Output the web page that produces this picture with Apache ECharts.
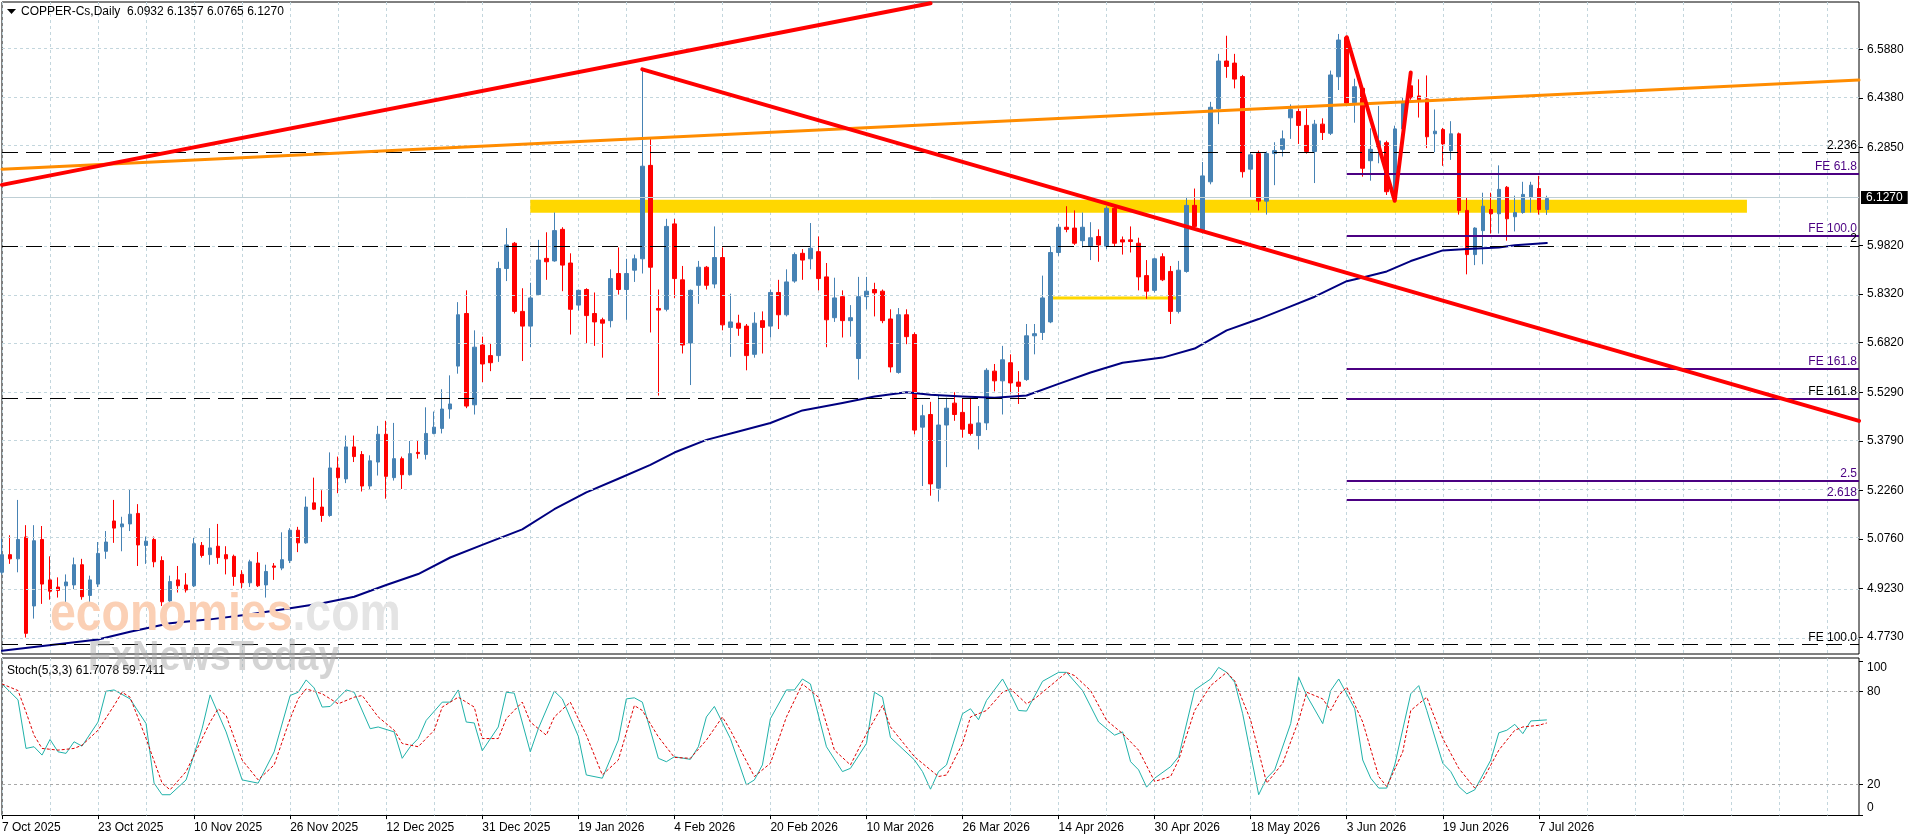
<!DOCTYPE html>
<html>
<head>
<meta charset="utf-8">
<title>COPPER-Cs Daily</title>
<script src="https://cdn.jsdelivr.net/npm/echarts@6/dist/echarts.min.js"></script>
<style>
html,body{margin:0;padding:0;background:#fff;}
#chart{width:1916px;height:840px;}
</style>
</head>
<body>
<div id="chart"></div>
<script>
// axis texts
var dateLabels = ['7 Oct 2025','23 Oct 2025','10 Nov 2025','26 Nov 2025','12 Dec 2025','31 Dec 2025',
    '19 Jan 2026','4 Feb 2026','20 Feb 2026','10 Mar 2026','26 Mar 2026','14 Apr 2026','30 Apr 2026',
    '18 May 2026','3 Jun 2026','19 Jun 2026','7 Jul 2026'];
var priceTicks = [6.588, 6.438, 6.285, 5.982, 5.832, 5.682, 5.529, 5.379, 5.226, 5.076, 4.923, 4.773];
var stochTicks = [0, 20, 80, 100];

// daily candles, 7 Oct 2025 .. 8 Jul 2026
var opens = [
4.9733,5.0278,5.0148,5.0824,4.8693,5.0746,4.9499,4.9278,4.9317,4.9343,
4.9967,4.9018,4.9369,5.0382,5.1317,5.1136,5.1226,5.1551,5.0564,5.0746,
5.0096,4.8849,4.9499,4.9343,4.9317,5.0564,5.0278,5.0538,5.0278,5.0226,
4.9668,4.9408,5.0018,4.9343,4.9928,4.9863,5.0096,5.1032,5.0642,5.1876,
5.1746,5.1486,5.2954,5.2616,5.3604,5.3370,5.2396,5.3136,5.3993,5.2655,
5.3240,5.2746,5.3435,5.3370,5.4019,5.4175,5.4773,5.6098,5.7722,5.4903,
5.6748,5.6422,5.6422,5.9111,5.9891,5.7787,5.7332,5.8306,5.9423,5.9345,
6.0319,5.9280,5.7981,5.8462,5.7722,5.7527,5.7501,5.8956,5.8462,5.9059,
5.9410,6.2294,5.7877,5.7851,6.0488,5.8761,5.6812,5.8592,5.9150,5.8631,
5.9449,5.7293,5.7423,5.7332,5.6461,5.7501,5.7332,5.8371,5.7683,5.8722,
5.9579,5.9410,5.9631,5.8852,5.7592,5.8241,5.7501,5.6332,5.8241,5.8462,
5.8410,5.7553,5.5903,5.7683,5.7072,5.4214,5.4604,5.2331,5.4279,5.4955,
5.4669,5.4305,5.3954,5.4344,5.5942,5.5643,5.6202,5.5604,5.5682,5.7033,
5.7137,5.7462,5.9605,6.0384,6.0358,5.9969,5.9800,6.0099,5.9800,6.0969,
5.9995,5.9995,5.9891,5.8891,5.8436,5.9475,5.9020,5.7787,5.9020,6.1060,
6.0280,6.1787,6.4048,6.5515,6.5451,6.5035,6.2177,6.2658,6.1190,6.2658,
6.2788,6.3762,6.3957,6.3528,6.2723,6.3567,6.3284,6.5031,6.6247,6.4229,
6.4673,6.2438,6.2870,6.2994,6.1500,6.3420,6.4750,6.4437,6.4346,6.3270,
6.3398,6.2749,6.3268,6.0904,5.9540,6.0280,6.0930,6.0800,6.1618,6.0709,
6.0839,6.1320,6.1579,6.0932];
var highs = [
5.0772,5.0876,5.1967,5.1188,5.1188,5.1162,5.0226,4.9577,4.9668,5.0187,
5.0148,4.9629,5.0668,5.1006,5.1967,5.1447,5.2305,5.1837,5.0837,5.0837,
5.0226,4.9629,4.9928,4.9707,5.0798,5.0668,5.1097,5.1226,5.0538,5.0278,
4.9798,5.0122,5.0356,4.9967,5.0018,5.0967,5.1097,5.1136,5.2071,5.2655,
5.2266,5.3435,5.3305,5.3954,5.3954,5.3474,5.3344,5.4253,5.4409,5.4344,
5.3305,5.3785,5.3785,5.4825,5.4695,5.5383,5.5812,5.8072,5.8436,5.7202,
5.7007,5.6812,5.9319,6.0358,5.9930,5.8501,5.8670,5.9995,6.0229,6.0839,
6.0384,5.9579,5.8462,5.8501,5.8371,5.7592,5.9085,5.9761,5.9410,5.9540,
6.5256,6.3112,5.8462,6.0644,6.0644,5.9189,5.8462,5.9345,5.9189,6.0410,
5.9761,5.8332,5.7683,5.7397,5.7761,5.7787,5.8462,5.8761,5.9085,5.9605,
5.9709,6.0514,6.0099,5.9280,5.8826,5.8436,5.7981,5.8852,5.8852,5.8670,
5.8462,5.7851,5.7890,5.7851,5.7137,5.4903,5.4994,5.5188,5.5123,5.5292,
5.5084,5.5123,5.4864,5.6033,5.6163,5.6722,5.6461,5.5942,5.7397,5.7397,
5.8891,5.9800,6.0488,6.1034,6.0904,6.0839,6.0540,6.0319,6.1034,6.1034,
6.0099,6.0410,6.0060,5.9371,5.9449,5.9579,5.9189,5.9345,6.1320,6.1579,
6.2398,6.4255,6.5736,6.6295,6.5736,6.5087,6.2697,6.2749,6.2723,6.3008,
6.3372,6.4177,6.4048,6.4048,6.3697,6.3747,6.5220,6.6350,6.6275,6.4970,
6.4697,6.3438,6.4127,6.3056,6.3520,6.4400,6.5160,6.4950,6.5070,6.4020,
6.3450,6.3658,6.3307,6.1294,6.0384,6.1450,6.1450,6.2294,6.1657,6.1359,
6.1787,6.1787,6.1969,6.1357];
var lows = [
4.9668,4.9993,4.9733,4.7720,4.8304,4.8758,4.8888,4.8953,4.8693,4.9213,
4.8888,4.8693,4.9278,5.0148,5.0642,5.0382,5.1006,4.9928,4.9993,4.9889,
4.8693,4.8693,4.9109,4.9109,4.9278,5.0187,4.9967,4.9993,4.9668,4.9317,
4.9239,4.9278,4.9278,4.8953,4.9499,4.9798,5.0018,5.0356,5.0616,5.1655,
5.1291,5.1447,5.2175,5.2486,5.3136,5.2227,5.2305,5.2720,5.2006,5.2564,
5.2305,5.2720,5.3240,5.3214,5.3993,5.4019,5.4474,5.5864,5.4799,5.4604,
5.5604,5.5942,5.6228,5.8722,5.7722,5.6254,5.6682,5.8280,5.8761,5.9319,
5.8410,5.7072,5.7812,5.6812,5.6722,5.6358,5.7293,5.8306,5.7527,5.8696,
5.8956,5.7137,5.5188,5.7787,5.8202,5.6487,5.5513,5.8020,5.8462,5.8501,
5.7202,5.6384,5.7033,5.5968,5.6358,5.6487,5.6981,5.7241,5.7631,5.8670,
5.8761,5.9085,5.8436,5.6682,5.7462,5.6981,5.7007,5.5682,5.7851,5.7631,
5.7423,5.5903,5.5864,5.6774,5.3993,5.2396,5.2097,5.1915,5.2980,5.4409,
5.3889,5.3954,5.3526,5.4123,5.5318,5.4604,5.5253,5.4929,5.5643,5.6461,
5.6903,5.7423,5.9501,6.0229,5.9839,5.9761,5.9371,5.9319,5.9709,5.9800,
5.9540,5.9605,5.8436,5.8176,5.8371,5.8722,5.7397,5.7722,5.8981,6.0384,
6.0190,6.1709,6.3567,6.4996,6.4671,6.1917,6.1320,6.0904,6.0774,6.1683,
6.2567,6.3112,6.2956,6.2658,6.1748,6.3077,6.3230,6.4620,6.4150,6.3611,
6.1945,6.1820,6.2359,6.1380,6.1180,6.3350,6.4320,6.3770,6.2827,6.2700,
6.2280,6.2463,6.0774,5.8930,5.9215,5.9241,6.0190,6.0190,5.9969,6.0255,
6.0800,6.0839,6.0774,6.0765];
var closes = [
5.0278,5.0148,5.0746,4.7849,5.0707,4.9369,4.9148,4.9174,4.9434,4.9967,
4.8979,4.9499,5.0317,5.0668,5.1097,5.1226,5.1525,5.0577,5.0694,5.0057,
4.8823,4.9447,4.9317,4.9187,5.0616,5.0252,5.0486,5.0187,5.0148,4.9603,
4.9408,5.0057,4.9317,4.9759,4.9889,5.0122,5.1032,5.0642,5.1746,5.1681,
5.1486,5.2954,5.2655,5.3604,5.3305,5.2396,5.3175,5.3993,5.2694,5.3240,
5.2746,5.3396,5.3396,5.4019,5.4214,5.4773,5.4929,5.7683,5.4864,5.6682,
5.6163,5.6202,5.9111,5.9839,5.7787,5.7332,5.8202,5.9371,5.9319,6.0280,
5.9215,5.7851,5.8436,5.7657,5.7462,5.7423,5.8800,5.8462,5.8956,5.9410,
6.2268,5.9150,5.7826,6.0410,5.8800,5.6748,5.8436,5.9150,5.8592,5.9449,
5.7371,5.7462,5.7267,5.6422,5.7423,5.7293,5.8371,5.7683,5.8696,5.9540,
5.9371,5.9735,5.8800,5.7527,5.8202,5.7501,5.7592,5.8241,5.8410,5.8358,
5.7501,5.6072,5.7683,5.7007,5.4123,5.4565,5.2461,5.4279,5.4799,5.4604,
5.4149,5.4019,5.4344,5.5968,5.5643,5.6293,5.5578,5.5474,5.7033,5.7098,
5.8202,5.9605,6.0384,6.0319,5.9891,6.0384,6.0060,5.9839,6.0969,5.9891,
5.9930,5.9943,5.8852,5.8410,5.9410,5.8761,5.7787,5.9059,6.1060,6.0410,
6.1969,6.4087,6.5515,6.5347,6.4957,6.2099,6.2619,6.1190,6.2658,6.2749,
6.3112,6.4022,6.3528,6.2723,6.3567,6.3307,6.5085,6.6164,6.4216,6.4722,
6.2204,6.2790,6.3050,6.1481,6.3420,6.4250,6.4380,6.4307,6.3177,6.3350,
6.2956,6.3268,6.0904,5.9540,6.0358,6.1034,6.0800,6.1554,6.0644,6.0839,
6.1398,6.1683,6.0930,6.1270];

// moving average: [bar, price]
var maLine = [[0,4.731],[12,4.766],[16,4.790],[21,4.816],[26,4.828],[31,4.844],[36,4.862],[40,4.878],
    [44,4.898],[48,4.934],[52,4.968],[56,5.019],[60,5.058],[65,5.106],[69,5.168],[73,5.220],[77,5.262],
    [81,5.305],[84,5.343],[88,5.382],[92,5.408],[96,5.434],[100,5.473],[105,5.496],[109,5.516],[113,5.529],
    [116,5.521],[120,5.516],[124,5.512],[128,5.519],[132,5.555],[136,5.590],[140,5.620],[145,5.636],
    [149,5.664],[153,5.720],[157,5.755],[161,5.794],[164,5.824],[168,5.872],[170,5.883],[173,5.902],
    [176,5.934],[180,5.967],[183,5.971],[187,5.976],[189,5.983],[193,5.990]];

// stochastic(5,3,3): [bar, value]
var stochK = [[0,85],[2,74.7],[3,43.2],[4,44.3],[5,38.9],[6,49],[7,41],[8,40],[9,47.5],[10,44.7],[12,60.3],
    [13,80.3],[14,81.1],[16,75.3],[18,59.3],[19,20.7],[20,13.2],[21,13.2],[23,22.8],[25,56],[26,77.9],[28,53.9],
    [30,22.8],[32,20.7],[34,41],[36,77.5],[37,79.6],[38,87.6],[39,82.4],[40,70],[41,70.4],[43,81.1],[44,79.6],
    [46,56],[47,57.1],[49,53.9],[50,36.8],[51,44.3],[52,49.6],[53,61.4],[55,73.2],[56,73.2],[57,81.1],[58,60.3],
    [59,59.7],[60,41.7],[62,57.1],[63,79.6],[64,79],[66,41],[67,56],[69,80.3],[70,75.3],[72,51.1],[73,26],
    [75,23.9],[77,48.6],[78,75.3],[79,76],[80,73.2],[82,36.8],[83,34.6],[84,37.8],[86,36.1],[87,44.3],[88,63.6],
    [89,70.4],[91,49.6],[93,19.6],[94,22.8],[95,32.5],[96,62.5],[98,81.1],[99,81.1],[100,88.2],[101,85],
    [103,44.3],[105,28.2],[106,30.3],[108,46.4],[109,79.6],[110,76.4],[111,50.3],[114,35.7],[115,28.2],
    [116,16.8],[117,28.2],[118,32.5],[120,65.7],[121,68.9],[122,61.8],[123,74.3],[125,88.2],[126,78.6],
    [127,67.8],[128,67.4],[130,86.7],[132,92.5],[133,92.5],[135,80.7],[137,60.3],[139,51.8],[140,53.9],
    [141,34.6],[142,29.3],[143,18.1],[144,23.9],[146,31.4],[147,37.8],[149,81.1],[151,88.2],[152,95.7],
    [153,92.5],[154,86.1],[155,65.7],[157,13.2],[158,23.9],[159,29.3],[161,59.3],[162,89.3],[163,77.5],
    [165,59.3],[166,80.7],[167,88.2],[169,68.9],[170,35.7],[171,23.9],[172,17.5],[173,17.5],[174,32.5],
    [176,78.6],[177,83.9],[178,67.8],[180,33.6],[181,28.2],[182,18.5],[183,13.8],[184,16.4],[186,35.7],
    [187,53.3],[188,55],[189,58.8],[190,52.8],[191,61],[193,61.7]];
var stochD = [[0,85],[2,80.7],[3,66.8],[4,51.8],[5,43.2],[7,42.1],[9,43.2],[10,45.3],[12,55],[14,71],[15,79.6],
    [16,76.4],[18,49.6],[20,20.7],[21,16.4],[23,28.2],[26,60.3],[27,68.9],[28,64.6],[30,35.7],[32,22.8],[34,32.5],
    [36,62.5],[37,75.3],[38,81.8],[40,78.6],[42,72.1],[44,76.4],[45,77.5],[47,63.6],[49,55],[50,46.4],[52,44.3],
    [54,55],[55,70],[57,76.4],[59,70],[60,49.6],[62,49.6],[63,62.5],[65,73.2],[66,60.3],[68,51.8],[69,63.6],
    [71,73.2],[73,51.8],[75,26],[77,35.7],[79,71],[80,67.8],[82,50.7],[84,37.4],[86,36.8],[88,48.6],[90,63.6],
    [91,55],[94,25],[96,33.6],[98,63.6],[100,85],[102,76.4],[104,42.1],[106,32.5],[108,52.8],[110,71],[111,57.1],
    [114,37.8],[117,25],[118,26],[120,46.4],[121,63.6],[123,67.8],[125,79.6],[126,81.8],[128,72.1],[129,75.3],
    [133,92.5],[134,90.4],[136,80.7],[138,61.4],[140,52.8],[142,42.1],[144,21.8],[146,25],[147,35.7],[149,67.8],
    [151,83.9],[153,92.5],[154,87.1],[156,61.4],[158,20.7],[160,33.6],[162,61.4],[163,79.6],[165,75.3],
    [166,67.8],[167,77.5],[168,82.9],[170,60.3],[172,25],[173,18.5],[175,41],[176,67.8],[178,76.4],[180,49.6],
    [182,30.3],[184,17.5],[185,22.8],[187,42.1],[189,55],[190,57.1],[192,58.2],[193,59.7]];
var stochText = 'Stoch(5,3,3) 61.7078 59.7411';

// drawn objects: [bar, price]
var upTrend = [[0,6.1693],[116,6.730]];
var downTrend = [[80,6.5257],[232,5.4408]];
var orangeLine = [[0,6.2176],[232,6.4929]];
var zigzag = [[168,6.625],[174,6.120],[176,6.516]];
var goldLine = [[131,5.820],[147,5.820]];
var goldZone = {from:66, to:218, top:6.1235, bottom:6.0835};
var fibDashed = [6.266, 5.978, 5.508, 4.749];
var fibDashedText = ['2.236', '2', 'FE 161.8', 'FE 100.0'];
var fibLevels = [6.2045, 6.0118, 5.6006, 5.5083, 5.2568, 5.1965];
var fibText = ['FE 61.8', 'FE 100.0', 'FE 161.8', '', '2.5', '2.618'];
var fibStart = 168;

var slots = 233; // bars plus empty space on the right

var cats = [];
for (var i = 0; i < slots; i++) cats.push(String(i));
var candles = opens.map(function (o, i) { return [o, closes[i], lows[i], highs[i]]; });
var last = opens.length - 1;
var lastPrice = closes[last];

var font = '"Liberation Sans", Arial, sans-serif';
var gridLine = {color: '#C3D6DD', type: [3, 3], width: 1};
function every6(i) { return i % 6 === 0; }
function every12(i) { return i % 12 === 0 && i / 12 < dateLabels.length; }

var myChart = echarts.init(document.getElementById('chart'), null, {renderer: 'canvas'});

var fibMarks = [];
fibDashed.forEach(function (p, k) {
    fibMarks.push({
        yAxis: p,
        lineStyle: {color: '#000', type: [16, 8], width: 1},
        label: {show: true, position: 'insideEndTop', formatter: fibDashedText[k], color: '#000',
            fontSize: 12, fontFamily: font, distance: [2, 1]}
    });
});
fibLevels.forEach(function (p, k) {
    fibMarks.push([
        {coord: [fibStart, p], lineStyle: {color: '#4B0082', type: 'solid', width: 2},
            label: {show: fibText[k] !== '', position: 'insideEndTop', formatter: fibText[k], color: '#4B0082',
                fontSize: 12, fontFamily: font, distance: [2, 1]}},
        {coord: [slots - 1, p]}
    ]);
});

function trend(name, data, color, width, z) {
    return {
        name: name, type: 'line', xAxisIndex: 0, yAxisIndex: 0, data: data,
        symbol: 'none', silent: true, z: z,
        lineStyle: {color: color, width: width, cap: 'round', join: 'round'}
    };
}

var option = {
    animation: false,
    backgroundColor: '#fff',
    textStyle: {fontFamily: font},
    grid: [
        {left: 2, top: 2, width: 1857, height: 652, show: true, borderColor: '#000', borderWidth: 1,
            backgroundColor: '#fff', outerBoundsMode: 'none'},
        {left: 2, top: 658, width: 1857, height: 157.5, show: true, borderColor: '#000', borderWidth: 1,
            backgroundColor: '#fff', outerBoundsMode: 'none'}
    ],
    xAxis: [
        {type: 'category', gridIndex: 0, data: cats, boundaryGap: false,
            axisLine: {show: false}, axisTick: {show: false}, axisLabel: {show: false},
            splitLine: {show: true, interval: every6, lineStyle: gridLine}},
        {type: 'category', gridIndex: 1, data: cats, boundaryGap: false,
            axisLine: {show: false},
            axisTick: {show: true, interval: every12, length: 4, lineStyle: {color: '#000'}},
            axisLabel: {interval: every12, align: 'left', margin: 6, color: '#000', fontSize: 12, fontFamily: font,
                formatter: function (v, i) { return dateLabels[i / 12] || ''; }},
            splitLine: {show: true, interval: every6, lineStyle: gridLine}}
    ],
    yAxis: [
        {type: 'value', gridIndex: 0, position: 'right', min: 4.7211, max: 6.7337, scale: true,
            axisLine: {show: false}, splitLine: {show: false},
            axisTick: {show: true, customValues: priceTicks, length: 4, lineStyle: {color: '#000'}},
            axisLabel: {customValues: priceTicks, margin: 8, color: '#000', fontSize: 12, fontFamily: font,
                formatter: function (v) { return v.toFixed(4); }}},
        {type: 'value', gridIndex: 1, position: 'right', min: -0.26, max: 101.8,
            axisLine: {show: false}, splitLine: {show: false},
            axisTick: {show: true, customValues: stochTicks, length: 4, lineStyle: {color: '#000'}},
            axisLabel: {customValues: stochTicks, margin: 8, color: '#000', fontSize: 12, fontFamily: font,
                lineHeight: 14, verticalAlignMinLabel: 'bottom',
                // top label sits just inside the panel, as in the terminal
                formatter: function (v) { return v === 100 ? '\n100' : String(v); }}}
    ],
    series: [
        {   // price grid lines
            name: 'grid', type: 'line', xAxisIndex: 0, yAxisIndex: 0, data: [], z: 1, silent: true,
            markLine: {silent: true, symbol: ['none', 'none'], label: {show: false}, lineStyle: gridLine,
                data: priceTicks.map(function (p) { return {yAxis: p}; })}
        },
        {   // gold zone
            name: 'zone', type: 'line', xAxisIndex: 0, yAxisIndex: 0, data: [], z: 2, silent: true,
            markArea: {silent: true, itemStyle: {color: '#FFD700', opacity: 1},
                data: [[{xAxis: goldZone.from, yAxis: goldZone.top}, {xAxis: goldZone.to, yAxis: goldZone.bottom}]]}
        },
        trend('gold line', goldLine, '#FFD700', 3, 2),
        {
            name: 'COPPER-Cs', type: 'candlestick', xAxisIndex: 0, yAxisIndex: 0, data: candles,
            barWidth: 4, z: 3, silent: true,
            itemStyle: {color: '#4682B4', color0: '#FF0000', borderColor: '#4682B4', borderColor0: '#FF0000',
                borderWidth: 1},
            markLine: {silent: true, symbol: ['none', 'none'],
                lineStyle: {color: '#BFCFD5', type: 'solid', width: 1},
                label: {show: true, position: 'end', distance: 2, formatter: lastPrice.toFixed(4),
                    backgroundColor: '#000', color: '#fff', padding: [1, 5, 0, 5], lineHeight: 12,
                    fontSize: 12, fontFamily: font},
                data: [{yAxis: lastPrice}]}
        },
        {
            name: 'fibo', type: 'line', xAxisIndex: 0, yAxisIndex: 0, data: [], z: 4, silent: true,
            markLine: {silent: true, symbol: ['none', 'none'], data: fibMarks}
        },
        trend('MA', maLine, '#000080', 2, 4),
        trend('orange', orangeLine, '#FF8C00', 3, 5),
        trend('up trend', upTrend, '#FF0000', 4, 5),
        trend('down trend', downTrend, '#FF0000', 4, 5),
        trend('zigzag', zigzag, '#FF0000', 4, 6),
        {
            name: 'levels', type: 'line', xAxisIndex: 1, yAxisIndex: 1, data: [], z: 1, silent: true,
            markLine: {silent: true, symbol: ['none', 'none'], label: {show: false},
                lineStyle: {color: '#A8A8A8', type: [3, 3], width: 1},
                data: [{yAxis: 80}, {yAxis: 20}]}
        },
        {
            name: '%K', type: 'line', xAxisIndex: 1, yAxisIndex: 1, data: stochK, symbol: 'none', z: 3,
            lineStyle: {color: '#20B2AA', width: 1}
        },
        {
            name: '%D', type: 'line', xAxisIndex: 1, yAxisIndex: 1, data: stochD, symbol: 'none', z: 3,
            lineStyle: {color: '#E00000', width: 1, type: [3, 2]}
        }
    ],
    graphic: [
        {type: 'polygon', shape: {points: [[7, 9], [16, 9], [11.5, 14]]}, style: {fill: '#000'}, z: 50},
        {type: 'text', x: 21, y: 12, z: 50, style: {
            text: 'COPPER-Cs,Daily  ' + [opens[last], highs[last], lows[last], closes[last]].map(function (v) {
                return v.toFixed(4); }).join(' '),
            font: '12px ' + font, fill: '#000', verticalAlign: 'middle'}},
        {type: 'text', x: 50, y: 615.6, scaleX: 0.91, z: 60, style: {
            text: '{a|economies}{b|.com}', font: 'bold 51px ' + font, verticalAlign: 'middle',
            rich: {a: {fill: '#FBD0B5', font: 'bold 51px ' + font}, b: {fill: '#E4E4E4', font: 'bold 51px ' + font}}}},
        {type: 'text', x: 88, y: 658.7, scaleX: 0.9, z: 60, style: {
            text: 'FxNewsToday', font: 'bold 42px ' + font, fill: 'rgba(170,170,170,0.5)', verticalAlign: 'middle'}},
        {type: 'text', x: 7, y: 671, z: 50, style: {
            text: stochText, font: '12px ' + font, fill: '#000', verticalAlign: 'middle'}}
    ]
};
myChart.setOption(option);
</script>
</body>
</html>
